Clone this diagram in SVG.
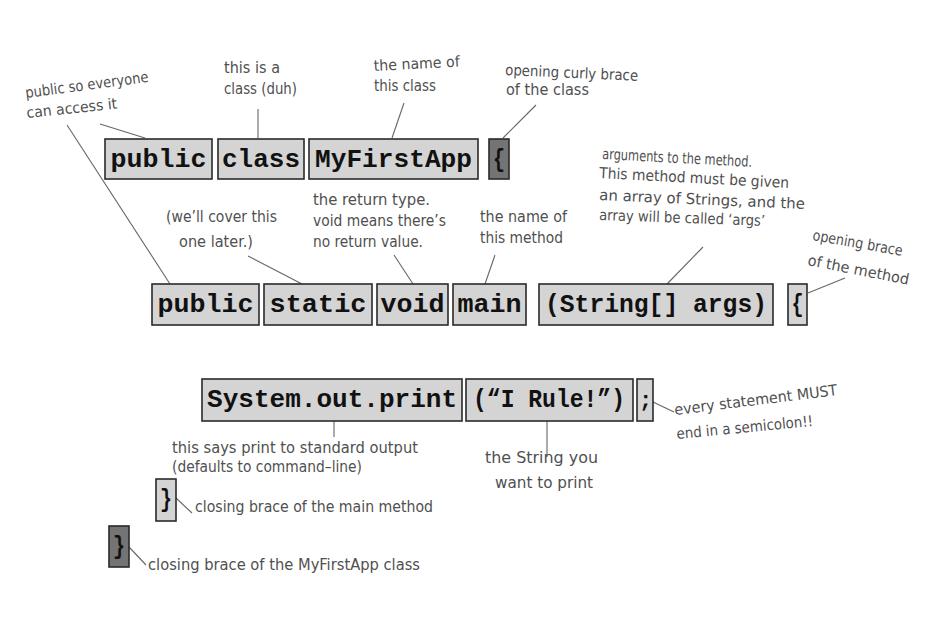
<svg xmlns="http://www.w3.org/2000/svg" width="943" height="624" viewBox="0 0 943 624">
<style>
.box{fill:#d4d4d4;stroke:#2a2a2a;stroke-width:1.6}
.dark{fill:#747474;stroke:#2a2a2a;stroke-width:1.6}
.code{font-family:"Liberation Mono","Courier New",monospace;font-weight:bold;font-size:26px;fill:#111;text-anchor:middle}
.note{font-family:"Liberation Sans Narrow","DejaVu Sans Condensed","Liberation Sans",sans-serif;font-size:15px;fill:#505050}
.conn line{stroke:#666;stroke-width:1.1}
</style>
<rect width="943" height="624" fill="#fff"/>

<g id="connectors" class="conn">
<line x1="100" y1="124" x2="145" y2="138"/>
<line x1="67" y1="125" x2="170" y2="284"/>
<line x1="258" y1="109" x2="258" y2="138"/>
<line x1="404" y1="103" x2="392" y2="138"/>
<line x1="536" y1="105" x2="503" y2="138"/>
<line x1="248" y1="256" x2="302" y2="284"/>
<line x1="394" y1="255" x2="413" y2="284"/>
<line x1="495" y1="255" x2="485" y2="284"/>
<line x1="703" y1="247" x2="667" y2="284"/>
<line x1="808" y1="293" x2="845" y2="278"/>
<line x1="334" y1="421" x2="334" y2="437"/>
<line x1="547" y1="421" x2="547" y2="457"/>
<line x1="653" y1="402" x2="674" y2="412"/>
<line x1="176" y1="498" x2="192" y2="513"/>
<line x1="129" y1="547" x2="146" y2="565"/>
</g>

<!-- Row 1 -->
<g id="n-public1"><rect class="box" x="105" y="139" width="107" height="40"/><text class="code" x="158.5" y="167" textLength="96" lengthAdjust="spacingAndGlyphs">public</text></g>
<g id="n-class"><rect class="box" x="218" y="139" width="86" height="40"/><text class="code" x="261" y="167" textLength="78" lengthAdjust="spacingAndGlyphs">class</text></g>
<g id="n-myfirstapp"><rect class="box" x="309" y="139" width="169" height="40"/><text class="code" x="393.5" y="167" textLength="157" lengthAdjust="spacingAndGlyphs">MyFirstApp</text></g>
<g id="n-brace1"><rect class="dark" x="489" y="139" width="20" height="40"/><text class="code" x="499" y="167" textLength="12" lengthAdjust="spacingAndGlyphs">{</text></g>

<!-- Row 2 -->
<g id="n-public2"><rect class="box" x="152" y="284" width="107" height="41"/><text class="code" x="205.5" y="312" textLength="96" lengthAdjust="spacingAndGlyphs">public</text></g>
<g id="n-static"><rect class="box" x="264" y="284" width="108" height="41"/><text class="code" x="318" y="312" textLength="97" lengthAdjust="spacingAndGlyphs">static</text></g>
<g id="n-void"><rect class="box" x="377" y="284" width="71" height="41"/><text class="code" x="412.5" y="312" textLength="64" lengthAdjust="spacingAndGlyphs">void</text></g>
<g id="n-main"><rect class="box" x="453" y="284" width="73" height="41"/><text class="code" x="489.5" y="312" textLength="64" lengthAdjust="spacingAndGlyphs">main</text></g>
<g id="n-args"><rect class="box" x="539" y="284" width="234" height="41"/><text class="code" x="656" y="312" textLength="222" lengthAdjust="spacingAndGlyphs">(String[] args)</text></g>
<g id="n-brace2"><rect class="box" x="788" y="284" width="19" height="41"/><text class="code" x="797.5" y="312" textLength="12" lengthAdjust="spacingAndGlyphs">{</text></g>

<!-- Row 3 -->
<g id="n-print"><rect class="box" x="202" y="379" width="260" height="42"/><text class="code" x="332" y="407" textLength="250" lengthAdjust="spacingAndGlyphs">System.out.print</text></g>
<g id="n-rule"><rect class="box" x="466" y="379" width="167" height="42"/><text class="code" x="549" y="407" textLength="152" lengthAdjust="spacingAndGlyphs">(“I Rule!”)</text></g>
<g id="n-semi"><rect class="box" x="637" y="379" width="16" height="42"/><text class="code" x="645.5" y="407" style="font-size:22px">;</text></g>

<!-- closing braces -->
<g id="n-close-main"><rect class="box" x="156" y="479" width="20" height="42"/><text class="code" x="166" y="507" textLength="12" lengthAdjust="spacingAndGlyphs">}</text></g>
<g id="n-close-class"><rect class="dark" x="109" y="526" width="20" height="41"/><text class="code" x="119" y="554" textLength="12" lengthAdjust="spacingAndGlyphs">}</text></g>

<!-- Labels -->
<g id="l-public">
<text class="note" transform="translate(26,98) rotate(-7.5)" textLength="124" lengthAdjust="spacingAndGlyphs">public so everyone</text>
<text class="note" transform="translate(27,118) rotate(-6)" textLength="91" lengthAdjust="spacingAndGlyphs">can access it</text>
</g>
<g id="l-class">
<text class="note" x="224" y="73" textLength="56" lengthAdjust="spacingAndGlyphs">this is a</text>
<text class="note" x="224" y="94" textLength="73" lengthAdjust="spacingAndGlyphs">class (duh)</text>
</g>
<g id="l-classname">
<text class="note" transform="translate(374,71) rotate(-3)" textLength="86" lengthAdjust="spacingAndGlyphs">the name of</text>
<text class="note" x="374" y="91" textLength="62" lengthAdjust="spacingAndGlyphs">this class</text>
</g>
<g id="l-brace1">
<text class="note" transform="translate(505,75) rotate(2.5)" textLength="133" lengthAdjust="spacingAndGlyphs">opening curly brace</text>
<text class="note" x="506" y="95" textLength="83" lengthAdjust="spacingAndGlyphs">of the class</text>
</g>
<g id="l-static">
<text class="note" x="166" y="222" textLength="111" lengthAdjust="spacingAndGlyphs">(we’ll cover this</text>
<text class="note" x="179" y="247" textLength="74" lengthAdjust="spacingAndGlyphs">one later.)</text>
</g>
<g id="l-void">
<text class="note" x="313" y="205" textLength="117" lengthAdjust="spacingAndGlyphs">the return type.</text>
<text class="note" x="313" y="226" textLength="133" lengthAdjust="spacingAndGlyphs">void means there’s</text>
<text class="note" x="313" y="247" textLength="110" lengthAdjust="spacingAndGlyphs">no return value.</text>
</g>
<g id="l-main">
<text class="note" x="480" y="222" textLength="87" lengthAdjust="spacingAndGlyphs">the name of</text>
<text class="note" x="480" y="243" textLength="83" lengthAdjust="spacingAndGlyphs">this method</text>
</g>
<g id="l-args">
<text class="note" transform="translate(602,159) rotate(3)" textLength="150" lengthAdjust="spacingAndGlyphs">arguments to the method.</text>
<text class="note" transform="translate(599,178) rotate(3)" textLength="190" lengthAdjust="spacingAndGlyphs">This method must be given</text>
<text class="note" transform="translate(599,200) rotate(2.5)" textLength="206" lengthAdjust="spacingAndGlyphs">an array of Strings, and the</text>
<text class="note" transform="translate(599,220) rotate(2)" textLength="166" lengthAdjust="spacingAndGlyphs">array will be called ‘args’</text>
</g>
<g id="l-brace2">
<text class="note" transform="translate(812,240) rotate(10)" textLength="91" lengthAdjust="spacingAndGlyphs">opening brace</text>
<text class="note" transform="translate(807,265) rotate(11)" textLength="103" lengthAdjust="spacingAndGlyphs">of the method</text>
</g>
<g id="l-print">
<text class="note" x="172" y="453" textLength="246" lengthAdjust="spacingAndGlyphs">this says print to standard output</text>
<text class="note" x="172" y="472" textLength="190" lengthAdjust="spacingAndGlyphs">(defaults to command–line)</text>
</g>
<g id="l-rule">
<text class="note" x="485" y="463" textLength="113" lengthAdjust="spacingAndGlyphs">the String you</text>
<text class="note" x="495" y="488" textLength="98" lengthAdjust="spacingAndGlyphs">want to print</text>
</g>
<g id="l-semi">
<text class="note" transform="translate(675,415) rotate(-7)" textLength="164" lengthAdjust="spacingAndGlyphs">every statement MUST</text>
<text class="note" transform="translate(677,439) rotate(-5.5)" textLength="137" lengthAdjust="spacingAndGlyphs">end in a semicolon!!</text>
</g>
<g id="l-close-main">
<text class="note" x="195" y="512" textLength="238" lengthAdjust="spacingAndGlyphs">closing brace of the main method</text>
</g>
<g id="l-close-class">
<text class="note" x="148" y="570" textLength="272" lengthAdjust="spacingAndGlyphs">closing brace of the MyFirstApp class</text>
</g>
</svg>
